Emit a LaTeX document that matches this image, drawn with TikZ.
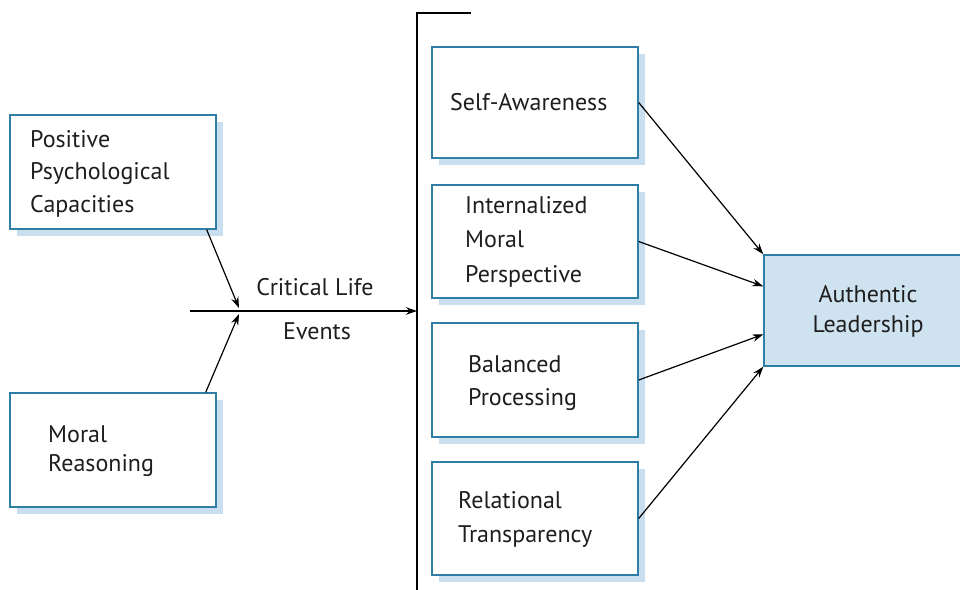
\documentclass[tikz,border=0pt]{standalone}
\usepackage{fontspec}
\setmainfont{PT Sans}
\usetikzlibrary{arrows.meta,calc}
\definecolor{boxblue}{HTML}{2F7EA6}
\definecolor{shadowblue}{HTML}{C9DFEF}
\definecolor{authfill}{HTML}{CFE2F0}
\definecolor{txt}{HTML}{1E1E1E}
\tikzset{
  card/.style={draw=boxblue, line width=1.4pt, fill=white, rectangle, inner sep=0pt, minimum width=206pt},
  shade/.style={fill=shadowblue},
  lbl/.style={anchor=base west, align=left, inner sep=0pt, text=txt, font=\fontsize{24}{32.5}\selectfont},
  clbl/.style={anchor=base, align=center, inner sep=0pt, text=txt, font=\fontsize{24}{30}\selectfont},
  conn/.style={line width=1.2pt, -{Stealth[length=11pt,width=7.5pt]}},
  plain/.style={line width=1.4pt}
}
\begin{document}
\begin{tikzpicture}[x=1pt,y=-1pt]
\clip (0,0) rectangle (960,589);
\fill[white] (0,0) rectangle (960,589);
% shadows
\foreach \xa/\ya/\xb/\yb in {10/115/216/229, 10/393/216/507, 432/47/638/158, 432/185/638/298, 432/323/638/437, 432/462/638/575}
  \fill[shade] (\xa+7,\ya+7) rectangle (\xb+7,\yb+7);
% boxes
\node[card, minimum height=114pt] (pos) at (113,172) {};
\node[card, minimum height=114pt] (mor) at (113,450) {};
\node[card, minimum height=111pt] (self) at (535,102.5) {};
\node[card, minimum height=113pt] (intl) at (535,241.5) {};
\node[card, minimum height=114pt] (bal) at (535,380) {};
\node[card, minimum height=113pt] (rel) at (535,518.5) {};
\node[card, minimum height=111pt, fill=authfill] (auth) at (867,310.5) {};
% texts (anchored at the baseline of the last line)
\node[lbl] (tpos) at (30,212) {Positive\\Psychological\\Capacities};
\node[lbl, font=\fontsize{24}{29}\selectfont] (tmor) at (48,471) {Moral\\Reasoning};
\node[lbl] (tself) at (450,110) {Self-Awareness};
\node[lbl, font=\fontsize{24}{34.5}\selectfont] (tintl) at (465,282) {Internalized\\Moral\\Perspective};
\node[lbl] (tbal) at (468,405) {Balanced\\Processing};
\node[lbl, font=\fontsize{24}{34}\selectfont] (trel) at (458,542) {Relational\\Transparency};
\node[clbl] (tauth) at (868,332) {Authentic\\Leadership};
\node[clbl] (tcle) at (315,295) {Critical Life};
\node[clbl] (tev) at (317,339) {Events};
% structural lines
\coordinate (h0) at (190,311);
\coordinate (vmid) at (417,311);
\coordinate (vtop) at (417,13);
\coordinate (vbot) at (417,600);
\coordinate (ttop) at (471,13);
\coordinate (j1) at (239,308);
\coordinate (j2) at (239,314);
\draw[plain] (ttop) -- (vtop) -- (vbot);
\draw[conn, line width=1.4pt] (h0) -- (vmid);
\draw[conn] ($(pos.south east)+(-10,0)$) -- (j1);
\draw[conn] ($(mor.north east)+(-11,0)$) -- (j2);
% to authentic
\draw[conn] (self.east) -- (auth.north west);
\draw[conn] (intl.east) -- ($(auth.north west)+(0,32)$);
\draw[conn] (bal.east) -- ($(auth.north west)+(0,80)$);
\draw[conn] (rel.east) -- (auth.south west);
\end{tikzpicture}
\end{document}
